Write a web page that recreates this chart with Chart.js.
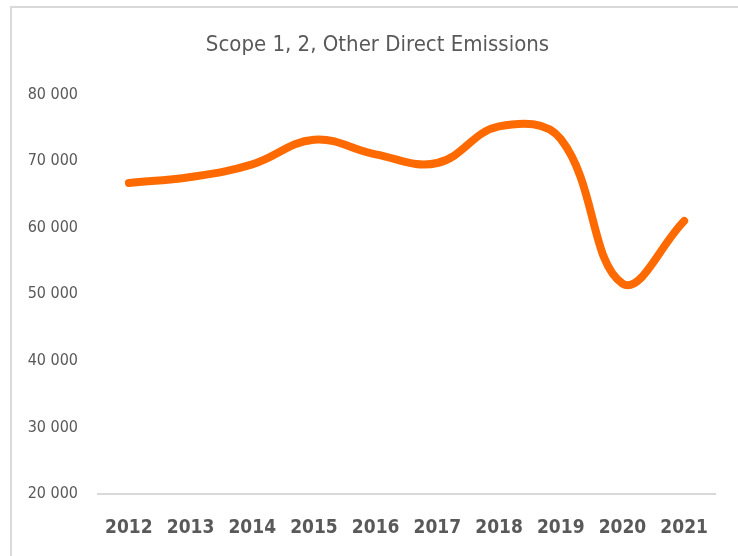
<!DOCTYPE html>
<html>
<head>
<meta charset="utf-8">
<script src="https://cdn.jsdelivr.net/npm/chart.js@4"></script>
<style>
  html, body { margin: 0; padding: 0; background: #fff; overflow: hidden; }
  #wrap {
    position: absolute; left: 10px; top: 6px;
    width: 735px; height: 560px;
    border: 2px solid #d9d9d9; background: #fff;
  }
</style>
</head>
<body>
<div id="wrap"><canvas id="lineChart" width="731" height="556"></canvas></div>
<script>
const years = ['2012', '2013', '2014', '2015', '2016', '2017', '2018', '2019', '2020', '2021'];
const emissions = [66700, 67600, 69500, 73200, 71000, 69700, 75200, 73300, 51600, 61000];
const yTicks = [20000, 30000, 40000, 50000, 60000, 70000, 80000];

const fontFamily = "'Liberation Sans Narrow', 'DejaVu Sans Condensed', 'Roboto', sans-serif";

const ctxline = document.getElementById('lineChart');
const lineChart = new Chart(ctxline, {
    type: 'line',
    data: {
        labels: years,
        datasets: [{
            label: 'Emissions',
            data: emissions,
            borderColor: '#ff6a00',
            borderWidth: 8,
            borderCapStyle: 'round',
            borderJoinStyle: 'round',
            tension: 0.4,
            pointRadius: 0,
            fill: false
        }]
    },
    options: {
        responsive: false,
        animation: false,
        layout: {
            padding: 0
        },
        plugins: {
            legend: { display: false },
            tooltip: { enabled: false },
            title: {
                display: true,
                text: 'Scope 1, 2, Other Direct Emissions',
                color: '#595959',
                font: { size: 22, family: fontFamily, weight: 'normal', lineHeight: 1.2 },
                padding: { top: 24, bottom: 36 }
            }
        },
        scales: {
            x: {
                offset: true,
                grid: { display: false, drawTicks: false },
                border: { display: true, color: '#d9d9d9', width: 2 },
                ticks: {
                    color: '#595959',
                    padding: 23,
                    maxRotation: 0,
                    font: { size: 19, family: fontFamily, weight: 'bold' }
                },
                afterFit: function (scale) { scale.height = 70; }
            },
            y: {
                min: 20000,
                max: 80000,
                grid: { display: false, drawTicks: false },
                border: { display: false },
                afterBuildTicks: function (scale) {
                    scale.ticks = yTicks.map(v => ({ value: v }));
                },
                ticks: {
                    color: '#595959',
                    padding: 20,
                    font: { size: 16, family: fontFamily },
                    callback: function (v) {
                        return String(v).replace(/\B(?=(\d{3})+(?!\d))/g, ' ');
                    }
                },
                afterFit: function (scale) { scale.width = 86; }
            },
            yRight: {
                position: 'right',
                min: 20000,
                max: 80000,
                grid: { display: false, drawTicks: false },
                border: { display: false },
                ticks: { display: false },
                afterFit: function (scale) { scale.width = 28; }
            }
        }
    }
});
</script>
</body>
</html>
